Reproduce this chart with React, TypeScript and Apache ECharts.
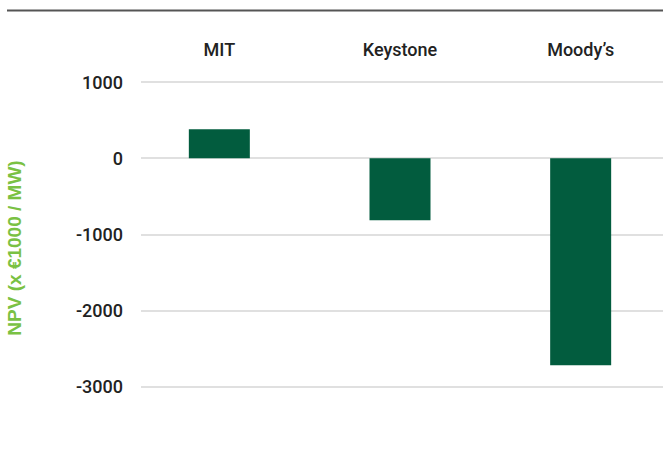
import React, { useEffect, useRef } from "react";
import * as echarts from "echarts";

const categories = ["MIT", "Keystone", "Moody’s"];
const npvValues = [380, -815, -2720];
const yMin = -3000;
const yMax = 1000;
const yInterval = 1000;
const axisTitle = "NPV (x €1000 / MW)";

export default function App() {
  const ref = useRef<HTMLDivElement>(null);
  useEffect(() => {
    if (!ref.current) return;
    const chart = echarts.init(ref.current, undefined, { renderer: "svg" });
    const font = "Roboto, 'Liberation Sans', Arial, sans-serif";
    const titleFont = "'Liberation Sans', Arial, Helvetica, sans-serif";
    chart.setOption({
      animation: false,
      backgroundColor: "#ffffff",
      textStyle: { fontFamily: font },
      grid: [
        { left: 141, right: 17, top: 82, bottom: 67.5 },
        { left: 129, right: 9, top: 82, bottom: 67.5 },
      ],
      xAxis: [
        {
          gridIndex: 0,
          type: "category",
          data: categories,
          show: false,
        },
        {
          gridIndex: 1,
          type: "category",
          data: categories,
          position: "top",
          axisLine: { show: false },
          axisTick: { show: false },
          axisLabel: {
            color: "#222222",
            fontSize: 18,
            fontWeight: 500,
            fontFamily: font,
            margin: 24,
          },
        },
      ],
      yAxis: [
        {
          gridIndex: 0,
          type: "value",
          min: yMin,
          max: yMax,
          interval: yInterval,
          axisLine: { show: false },
          axisTick: { show: false },
          axisLabel: {
            color: "#222222",
            fontSize: 18,
            fontWeight: 500,
            fontFamily: font,
            margin: 18,
            formatter: (v: number) => String(v),
          },
          splitLine: { lineStyle: { color: "#d6d6d6", width: 1.5 } },
        },
        {
          gridIndex: 1,
          type: "value",
          min: yMin,
          max: yMax,
          interval: yInterval,
          show: false,
          splitLine: { show: false },
        },
      ],
      series: [
        {
          type: "bar",
          xAxisIndex: 1,
          yAxisIndex: 1,
          data: npvValues,
          barWidth: 61,
          itemStyle: { color: "#025c3e" },
        },
      ],
      graphic: [
        {
          type: "line",
          shape: { x1: 7, y1: 10.5, x2: 663, y2: 10.5 },
          style: { stroke: "#555555", lineWidth: 2 },
        },
        {
          type: "text",
          x: 14,
          y: 248,
          rotation: Math.PI / 2,
          style: {
            text: axisTitle,
            fill: "#7ac143",
            fontSize: 19,
            fontWeight: "bold",
            fontFamily: titleFont,
            align: "center",
            verticalAlign: "middle",
          },
        },
      ],
    });
    return () => chart.dispose();
  }, []);
  return (
    <div style={{ position: "fixed", left: 0, top: 0, width: 663, height: 454, overflow: "hidden" }}>
      <div ref={ref} style={{ width: 680, height: 454 }} />
    </div>
  );
}
